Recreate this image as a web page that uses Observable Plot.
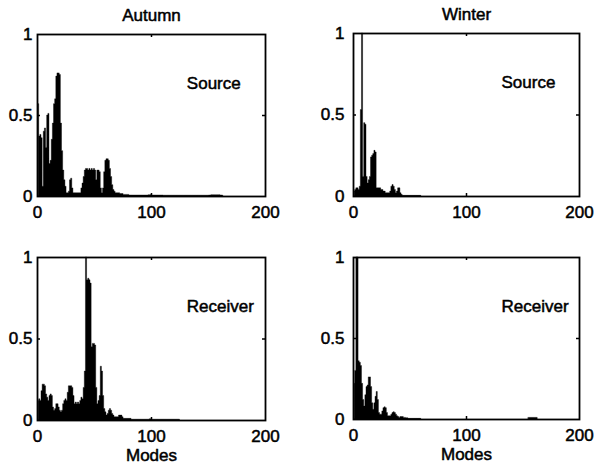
<!DOCTYPE html>
<html><head><meta charset="utf-8">
<script src="https://cdn.jsdelivr.net/npm/d3@7"></script>
<script src="https://cdn.jsdelivr.net/npm/@observablehq/plot@0.6"></script>
<style>
body{margin:0;background:#fff;}
#chart{position:relative;width:596px;height:468px;background:#fff;overflow:hidden;}
#chart svg{position:absolute;}
#chart svg text{stroke:#000;stroke-width:0.5px;}
</style></head><body><div id="chart"></div>
<script>
// ---- data (value per mode, index 0 = mode 1) ----
const xTicks = [0, 100, 200];
const xTickLabels = ["0", "100", "200"];
const yTicks = [0, 0.5, 1];
const yTickLabels = ["0", "0.5", "1"];
const seasons = ["Autumn", "Winter"];
const locations = ["Source", "Receiver"];
const xLabel = "Modes";

const autumnSource = [
  0.57,0.37,0.38,0.36,0.06,0.40,0.42,0.30,0.50,0.51,
  0.20,0.22,0.35,0.45,0.57,0.60,0.74,0.76,0.76,0.75,
  0.45,0.28,0.16,0.10,0.06,0.02,0.02,0.03,0.10,0.11,
  0.05,0.02,0.02,0.02,0.02,0.02,0.02,0.02,0.05,0.08,
  0.12,0.16,0.17,0.17,0.16,0.17,0.16,0.17,0.16,0.17,
  0.16,0.10,0.16,0.16,0.15,0.05,0.02,0.05,0.15,0.22,
  0.23,0.23,0.22,0.17,0.12,0.07,0.04,0.03,0.02,0.02,
  0.02,0.02,0.015,0.015,0.015,0.01,0.01,0.01,0.01,0.01,
  0.006,0.006,0.006,0.006,0.006,0.006,0.006,0.006,0.006,0.006,
  0.006,0.006,0.006,0.006,0.006,0.006,0.006,0.008,0.008,0.01,
  0.006,0.006,0.006,0.006,0.006,0.006,0.006,0.006,0.006,0.006,
  0.005,0.005,0.005,0.005,0.005,0.005,0.005,0.005,0.005,0.005,
  0.005,0.005,0.005,0.005,0.005,0.005,0.005,0.005,0.005,0.005,
  0.005,0.005,0.005,0.005,0.005,0.005,0.005,0.005,0.005,0.005,
  0.005,0.005,0.005,0.005,0.005,0.005,0.005,0.005,0.005,0.005,
  0.006,0.006,0.008,0.008,0.008,0.008,0.008,0.008,0.008,0.008,
  0.006,0.006,0.005
];

const winterSource = [
  0.03,0.04,0.05,0.05,0.04,0.06,0.53,1.00,0.12,0.45,
  0.44,0.12,0.08,0.10,0.12,0.24,0.25,0.26,0.28,0.27,
  0.05,0.05,0.05,0.05,0.04,0.04,0.03,0.03,0.02,0.02,
  0.02,0.02,0.03,0.06,0.07,0.06,0.04,0.02,0.03,0.05,
  0.05,0.02,0.01,0.004,0.004,0.004,0.004,0.004,0.004,0.004,
  0.004,0.004,0.004,0.004,0.004,0.004,0.004,0.004,0.004,0.004
];

const autumnReceiver = [
  0.12,0.13,0.12,0.18,0.22,0.22,0.21,0.16,0.14,0.12,
  0.15,0.16,0.15,0.08,0.06,0.07,0.10,0.10,0.08,0.06,
  0.05,0.06,0.10,0.12,0.13,0.12,0.17,0.21,0.21,0.21,
  0.20,0.15,0.10,0.11,0.10,0.11,0.10,0.12,0.14,0.13,
  0.20,0.30,1.00,0.86,0.87,0.86,0.84,0.45,0.47,0.47,
  0.46,0.20,0.10,0.12,0.15,0.33,0.30,0.15,0.07,0.05,
  0.03,0.04,0.06,0.07,0.06,0.04,0.03,0.02,0.02,0.02,
  0.02,0.03,0.03,0.03,0.02,0.01,0.01,0.01,0.01,0.01,
  0.01,0.01,0.005,0.005,0.005,0.005,0.005,0.005,0.005,0.005,
  0.005,0.005,0.005,0.005,0.005,0.005,0.005,0.005,0.008,0.008,
  0.005,0.005,0.005,0.005,0.005,0.005,0.005,0.005,0.005,0.005,
  0.005,0.005,0.005,0.005,0.005,0.005,0.005,0.005,0.005,0.005,
  0.005,0.005,0.005,0.005,0.005
];

const winterReceiver = [
  0.22,0.30,1.00,1.00,0.36,0.35,0.33,0.22,0.12,0.08,
  0.15,0.20,0.21,0.26,0.26,0.20,0.10,0.06,0.10,0.14,
  0.17,0.12,0.04,0.03,0.03,0.05,0.07,0.075,0.07,0.04,
  0.02,0.02,0.02,0.03,0.04,0.045,0.04,0.03,0.02,0.015,
  0.01,0.015,0.015,0.015,0.01,0.01,0.008,0.008,0.004,0.004,
  0.004,0.004,0.004,0.004,0.004,0.004,0.004,0.004,0.004,0.004
];
const winterReceiverFarStart = 155;
const winterReceiverFar = [0.01,0.01,0.01,0.01,0.01,0.01,0.01,0.01,0.01];

// ---- drawing ----
const chart = document.getElementById("chart");
const FONT = '"Liberation Sans", Arial, Helvetica, sans-serif';

function toData(values, start = 1) {
  return values.map((v, i) => ({m: i + start, v}));
}

function panel({series, title, label, xTitle, left, top, width, height, mL, mR, mT, mB, pad}) {
  const W = width - mL - mR, H = height - mT - mB;
  const marks = [];
  for (const data of series) {
    marks.push(Plot.areaY(data, {x: "m", y: "v", curve: "step", fill: "black", stroke: "black", strokeWidth: 0.4}));
  }
  marks.push(
    Plot.frame({stroke: "black", strokeWidth: 1.8}),
    Plot.axisX({ticks: xTicks, tickSize: 0, tickPadding: 9, tickFormat: d => xTickLabels[xTicks.indexOf(d)], label: null}),
    Plot.axisY({ticks: yTicks, tickSize: 0, tickPadding: pad, tickFormat: d => yTickLabels[yTicks.indexOf(d)], label: null}),
    Plot.tickX([xTicks[1]], {x: d => d, insetBottom: H - 3, stroke: "black", strokeWidth: 1.5}),
    Plot.tickX([xTicks[1]], {x: d => d, insetTop: H - 3, stroke: "black", strokeWidth: 1.5}),
    Plot.tickY([yTicks[1]], {y: d => d, insetRight: W - 3, stroke: "black", strokeWidth: 1.5}),
    Plot.tickY([yTicks[1]], {y: d => d, insetLeft: W - 3, stroke: "black", strokeWidth: 1.5}),
    Plot.text([label], {x: 131, y: 0.70, text: d => d, textAnchor: "start"})
  );
  if (title) marks.push(Plot.text([title], {frameAnchor: "top", lineAnchor: "middle", dy: -19, text: d => d}));
  if (xTitle) marks.push(Plot.text([xTitle], {frameAnchor: "bottom", lineAnchor: "middle", dy: 35, text: d => d}));
  const svg = Plot.plot({
    width, height,
    marginLeft: mL, marginRight: mR, marginTop: mT, marginBottom: mB,
    x: {domain: [0, 200]},
    y: {domain: [0, 1]},
    style: {fontFamily: FONT, fontSize: "17px", color: "black", background: "white"},
    marks
  });
  svg.style.left = left + "px";
  svg.style.top = top + "px";
  chart.appendChild(svg);
}

panel({series: [toData(autumnSource)], title: seasons[0], label: locations[0],
  left: 0, top: 0, width: 298, height: 230, mL: 37, mR: 33, mT: 34, mB: 34, pad: 5});
panel({series: [toData(winterSource)], title: seasons[1], label: locations[0],
  left: 298, top: 0, width: 298, height: 230, mL: 55, mR: 17, mT: 33, mB: 34, pad: 9});
panel({series: [toData(autumnReceiver)], label: locations[1], xTitle: xLabel,
  left: 0, top: 230, width: 298, height: 238, mL: 37, mR: 33, mT: 27, mB: 48, pad: 5});
panel({series: [toData(winterReceiver), toData(winterReceiverFar, winterReceiverFarStart)], label: locations[1], xTitle: xLabel,
  left: 298, top: 230, width: 298, height: 238, mL: 55, mR: 17, mT: 27, mB: 49, pad: 9});
</script>
</body></html>
